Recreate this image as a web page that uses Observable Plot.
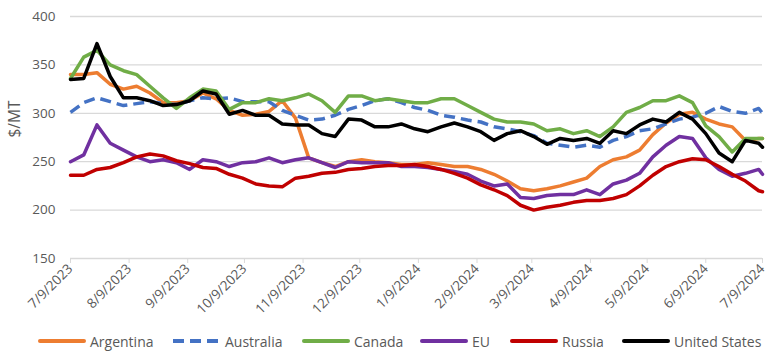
<!DOCTYPE html>
<html><head><meta charset="utf-8">
<script src="https://cdn.jsdelivr.net/npm/d3@7"></script>
<script src="https://cdn.jsdelivr.net/npm/@observablehq/plot@0.6"></script>
<style>
body{margin:0;background:#fff;font-family:"Open Sans",sans-serif;}
#wrap{position:relative;width:776px;height:355px;}
#legend{position:absolute;left:0;top:330px;width:776px;height:22px;display:flex;align-items:center;font-size:14px;color:#595959;}
.item{position:absolute;display:flex;align-items:center;}
.item svg{margin-right:4px;}
</style></head><body><div id="wrap"><div id="chart"></div><div id="legend"></div></div>
<script>
const dates = ["2023-07-09","2023-07-16","2023-07-23","2023-07-30","2023-08-06","2023-08-13","2023-08-20","2023-08-27","2023-09-03","2023-09-10","2023-09-17","2023-09-24","2023-10-01","2023-10-08","2023-10-15","2023-10-22","2023-10-29","2023-11-05","2023-11-12","2023-11-19","2023-11-26","2023-12-03","2023-12-10","2023-12-17","2023-12-24","2023-12-31","2024-01-07","2024-01-14","2024-01-21","2024-01-28","2024-02-04","2024-02-11","2024-02-18","2024-02-25","2024-03-03","2024-03-10","2024-03-17","2024-03-24","2024-03-31","2024-04-07","2024-04-14","2024-04-21","2024-04-28","2024-05-05","2024-05-12","2024-05-19","2024-05-26","2024-06-02","2024-06-09","2024-06-16","2024-06-23","2024-06-30","2024-07-07","2024-07-09"];
const argentina = [340,340,342,330,325,328,321,311,311,313,321,315,303,298,299,302,313,295,254,249,245,250,252,250,249,247,247,249,247,245,245,242,237,230,222,220,222,225,229,233,245,252,255,262,278,290,299,301,294,289,286,272,274,274];
const australia = [301,311,316,312,308,310,312,310,309,313,316,315,316,312,312,312,303,298,293,294,298,304,308,313,315,311,306,303,298,296,293,291,286,284,281,277,269,267,265,267,265,272,276,282,284,289,294,296,300,307,302,300,305,300];
const canada = [336,358,365,350,344,340,328,316,305,316,325,323,304,311,311,315,313,316,320,313,301,318,318,313,315,313,311,311,315,315,308,301,294,291,291,289,282,284,279,282,276,286,301,306,313,313,318,311,287,276,260,274,274,274];
const eu = [250,257,288,269,262,255,250,252,249,242,252,250,245,249,250,254,249,252,254,249,244,250,249,249,249,245,245,244,242,240,237,230,225,227,213,212,215,216,216,221,216,227,231,238,255,267,276,274,254,242,235,238,242,237];
const russia = [236,236,242,244,249,255,258,256,251,248,244,243,237,233,227,225,224,233,235,238,239,242,243,245,246,246,247,245,242,238,233,226,221,215,205,200,203,205,208,210,210,212,216,225,236,245,250,253,252,245,237,230,220,219];
const unitedStates = [335,336,372,338,316,316,313,308,309,313,323,320,299,303,298,298,289,288,288,279,276,294,293,286,286,289,284,281,286,290,286,281,272,279,282,276,268,274,272,274,269,282,279,288,294,291,301,294,279,259,250,272,269,265];
const seriesNames = ["Argentina","Australia","Canada","EU","Russia","United States"];
const seriesValues = [argentina, australia, canada, eu, russia, unitedStates];
const seriesColors = ["#ED7D31","#4472C4","#70AD47","#7030A0","#C00000","#000000"];
const seriesDash = [null,"11,6",null,null,null,null];
const yTicks = [150,200,250,300,350,400];
const yLabel = "$/MT";
const tickLabels = ["7/9/2023","8/9/2023","9/9/2023","10/9/2023","11/9/2023","12/9/2023","1/9/2024","2/9/2024","3/9/2024","4/9/2024","5/9/2024","6/9/2024","7/9/2024"];

const tickDates = tickLabels.map(s => { const [m,d,y] = s.split("/").map(Number); return new Date(Date.UTC(y, m-1, d)); });
const parsed = dates.map(s => new Date(s + "T00:00:00Z"));

const lineMarks = seriesNames.map((name, i) => {
  const rows = seriesValues[i].map((v, j) => ({date: parsed[j], value: v, series: name}));
  return Plot.line(rows, {x: "date", y: "value", stroke: seriesColors[i], strokeWidth: 3.5,
    strokeDasharray: seriesDash[i] || undefined, strokeLinejoin: "round", strokeLinecap: seriesDash[i] ? "butt" : "round"});
});

const chart = Plot.plot({
  width: 776, height: 325,
  marginLeft: 70, marginRight: 14, marginTop: 16, marginBottom: 67,
  style: {fontFamily: "'Open Sans', sans-serif", fontSize: "13.5px", color: "#595959", background: "#fff"},
  x: {type: "utc", domain: [tickDates[0], tickDates[tickDates.length-1]]},
  y: {domain: [150, 400]},
  marks: [
    Plot.gridY(yTicks.slice(1), {stroke: "#d9d9d9", strokeOpacity: 1, strokeWidth: 1.3}),
    Plot.ruleY([150], {stroke: "#d9d9d9", strokeWidth: 1.3}),
    Plot.axisY(yTicks, {tickSize: 0, tickPadding: 15, label: null, fill: "#595959", fontSize: 13.5}),
    Plot.text([yLabel], {frameAnchor: "left", rotate: -90, dx: -55, fill: "#595959", fontSize: 15.5, text: d => d}),
    Plot.axisX(tickDates, {tickSize: 5, stroke: "#d9d9d9", tickRotate: -45, tickPadding: 3, label: null, fill: "#595959",
      tickFormat: (d) => tickLabels[tickDates.findIndex(t => +t === +d)], fontSize: 13.5}),
    ...lineMarks
  ]
});
document.getElementById("chart").appendChild(chart);

const legendX = [38, 173, 302, 420, 510, 622];
const legend = document.getElementById("legend");
seriesNames.forEach((name, i) => {
  const item = document.createElement("div");
  item.className = "item";
  item.style.left = legendX[i] + "px";
  const dash = seriesDash[i] ? `stroke-dasharray="11,6"` : `stroke-linecap="round"`;
  item.innerHTML = `<svg width="48" height="8"><line x1="${seriesDash[i]?0:2}" y1="4" x2="${seriesDash[i]?48:46}" y2="4" stroke="${seriesColors[i]}" stroke-width="4" ${dash}/></svg><span>${name}</span>`;
  legend.appendChild(item);
});
</script></body></html>
